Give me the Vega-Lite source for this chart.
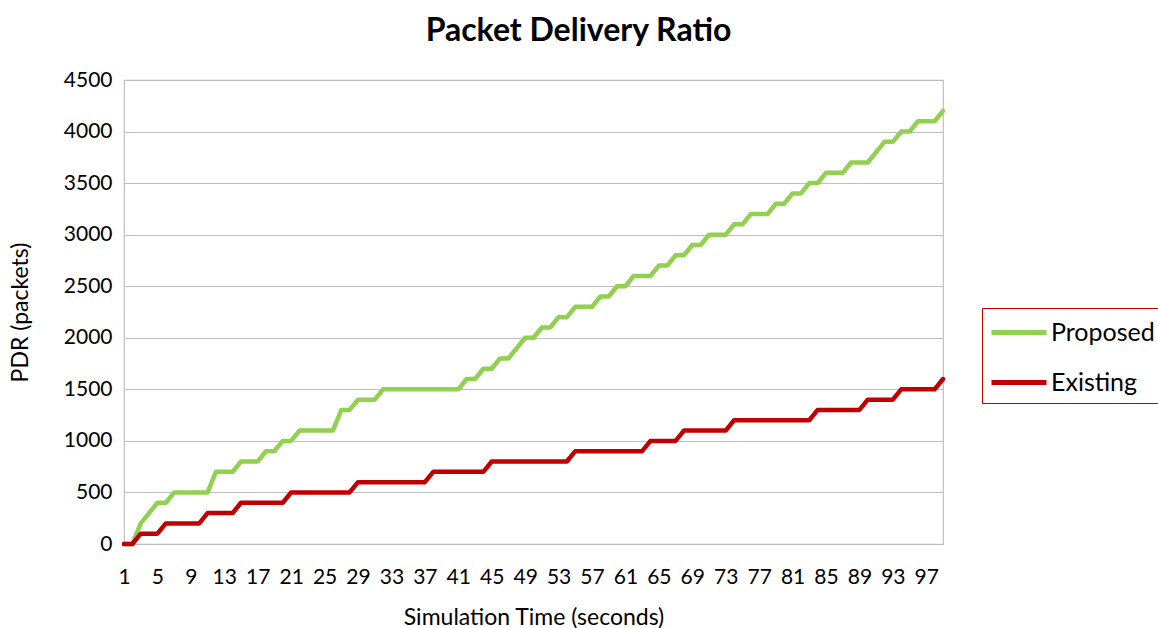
{
  "$schema": "https://vega.github.io/schema/vega-lite/v6.json",
  "width": 819,
  "height": 464,
  "autosize": {"type": "none"},
  "padding": {"left": 124, "top": 80, "right": 215, "bottom": 84},
  "background": "white",
  "title": {"text": "Packet Delivery Ratio", "font": "Lato", "fontSize": 32, "fontWeight": "bold", "color": "#000000", "anchor": "middle", "frame": "group", "dx": 45, "baseline": "top", "offset": 21},
  "data": {"values": [
    {"time":1,"series":"Proposed","pdr":0},{"time":2,"series":"Proposed","pdr":0},{"time":3,"series":"Proposed","pdr":200},{"time":4,"series":"Proposed","pdr":300},{"time":5,"series":"Proposed","pdr":400},{"time":6,"series":"Proposed","pdr":400},{"time":7,"series":"Proposed","pdr":500},{"time":8,"series":"Proposed","pdr":500},{"time":9,"series":"Proposed","pdr":500},{"time":10,"series":"Proposed","pdr":500},
    {"time":11,"series":"Proposed","pdr":500},{"time":12,"series":"Proposed","pdr":700},{"time":13,"series":"Proposed","pdr":700},{"time":14,"series":"Proposed","pdr":700},{"time":15,"series":"Proposed","pdr":800},{"time":16,"series":"Proposed","pdr":800},{"time":17,"series":"Proposed","pdr":800},{"time":18,"series":"Proposed","pdr":900},{"time":19,"series":"Proposed","pdr":900},{"time":20,"series":"Proposed","pdr":1000},
    {"time":21,"series":"Proposed","pdr":1000},{"time":22,"series":"Proposed","pdr":1100},{"time":23,"series":"Proposed","pdr":1100},{"time":24,"series":"Proposed","pdr":1100},{"time":25,"series":"Proposed","pdr":1100},{"time":26,"series":"Proposed","pdr":1100},{"time":27,"series":"Proposed","pdr":1300},{"time":28,"series":"Proposed","pdr":1300},{"time":29,"series":"Proposed","pdr":1400},{"time":30,"series":"Proposed","pdr":1400},
    {"time":31,"series":"Proposed","pdr":1400},{"time":32,"series":"Proposed","pdr":1500},{"time":33,"series":"Proposed","pdr":1500},{"time":34,"series":"Proposed","pdr":1500},{"time":35,"series":"Proposed","pdr":1500},{"time":36,"series":"Proposed","pdr":1500},{"time":37,"series":"Proposed","pdr":1500},{"time":38,"series":"Proposed","pdr":1500},{"time":39,"series":"Proposed","pdr":1500},{"time":40,"series":"Proposed","pdr":1500},
    {"time":41,"series":"Proposed","pdr":1500},{"time":42,"series":"Proposed","pdr":1600},{"time":43,"series":"Proposed","pdr":1600},{"time":44,"series":"Proposed","pdr":1700},{"time":45,"series":"Proposed","pdr":1700},{"time":46,"series":"Proposed","pdr":1800},{"time":47,"series":"Proposed","pdr":1800},{"time":48,"series":"Proposed","pdr":1900},{"time":49,"series":"Proposed","pdr":2000},{"time":50,"series":"Proposed","pdr":2000},
    {"time":51,"series":"Proposed","pdr":2100},{"time":52,"series":"Proposed","pdr":2100},{"time":53,"series":"Proposed","pdr":2200},{"time":54,"series":"Proposed","pdr":2200},{"time":55,"series":"Proposed","pdr":2300},{"time":56,"series":"Proposed","pdr":2300},{"time":57,"series":"Proposed","pdr":2300},{"time":58,"series":"Proposed","pdr":2400},{"time":59,"series":"Proposed","pdr":2400},{"time":60,"series":"Proposed","pdr":2500},
    {"time":61,"series":"Proposed","pdr":2500},{"time":62,"series":"Proposed","pdr":2600},{"time":63,"series":"Proposed","pdr":2600},{"time":64,"series":"Proposed","pdr":2600},{"time":65,"series":"Proposed","pdr":2700},{"time":66,"series":"Proposed","pdr":2700},{"time":67,"series":"Proposed","pdr":2800},{"time":68,"series":"Proposed","pdr":2800},{"time":69,"series":"Proposed","pdr":2900},{"time":70,"series":"Proposed","pdr":2900},
    {"time":71,"series":"Proposed","pdr":3000},{"time":72,"series":"Proposed","pdr":3000},{"time":73,"series":"Proposed","pdr":3000},{"time":74,"series":"Proposed","pdr":3100},{"time":75,"series":"Proposed","pdr":3100},{"time":76,"series":"Proposed","pdr":3200},{"time":77,"series":"Proposed","pdr":3200},{"time":78,"series":"Proposed","pdr":3200},{"time":79,"series":"Proposed","pdr":3300},{"time":80,"series":"Proposed","pdr":3300},
    {"time":81,"series":"Proposed","pdr":3400},{"time":82,"series":"Proposed","pdr":3400},{"time":83,"series":"Proposed","pdr":3500},{"time":84,"series":"Proposed","pdr":3500},{"time":85,"series":"Proposed","pdr":3600},{"time":86,"series":"Proposed","pdr":3600},{"time":87,"series":"Proposed","pdr":3600},{"time":88,"series":"Proposed","pdr":3700},{"time":89,"series":"Proposed","pdr":3700},{"time":90,"series":"Proposed","pdr":3700},
    {"time":91,"series":"Proposed","pdr":3800},{"time":92,"series":"Proposed","pdr":3900},{"time":93,"series":"Proposed","pdr":3900},{"time":94,"series":"Proposed","pdr":4000},{"time":95,"series":"Proposed","pdr":4000},{"time":96,"series":"Proposed","pdr":4100},{"time":97,"series":"Proposed","pdr":4100},{"time":98,"series":"Proposed","pdr":4100},{"time":99,"series":"Proposed","pdr":4200},
    {"time":1,"series":"Existing","pdr":0},{"time":2,"series":"Existing","pdr":0},{"time":3,"series":"Existing","pdr":100},{"time":4,"series":"Existing","pdr":100},{"time":5,"series":"Existing","pdr":100},{"time":6,"series":"Existing","pdr":200},{"time":7,"series":"Existing","pdr":200},{"time":8,"series":"Existing","pdr":200},{"time":9,"series":"Existing","pdr":200},{"time":10,"series":"Existing","pdr":200},
    {"time":11,"series":"Existing","pdr":300},{"time":12,"series":"Existing","pdr":300},{"time":13,"series":"Existing","pdr":300},{"time":14,"series":"Existing","pdr":300},{"time":15,"series":"Existing","pdr":400},{"time":16,"series":"Existing","pdr":400},{"time":17,"series":"Existing","pdr":400},{"time":18,"series":"Existing","pdr":400},{"time":19,"series":"Existing","pdr":400},{"time":20,"series":"Existing","pdr":400},
    {"time":21,"series":"Existing","pdr":500},{"time":22,"series":"Existing","pdr":500},{"time":23,"series":"Existing","pdr":500},{"time":24,"series":"Existing","pdr":500},{"time":25,"series":"Existing","pdr":500},{"time":26,"series":"Existing","pdr":500},{"time":27,"series":"Existing","pdr":500},{"time":28,"series":"Existing","pdr":500},{"time":29,"series":"Existing","pdr":600},{"time":30,"series":"Existing","pdr":600},
    {"time":31,"series":"Existing","pdr":600},{"time":32,"series":"Existing","pdr":600},{"time":33,"series":"Existing","pdr":600},{"time":34,"series":"Existing","pdr":600},{"time":35,"series":"Existing","pdr":600},{"time":36,"series":"Existing","pdr":600},{"time":37,"series":"Existing","pdr":600},{"time":38,"series":"Existing","pdr":700},{"time":39,"series":"Existing","pdr":700},{"time":40,"series":"Existing","pdr":700},
    {"time":41,"series":"Existing","pdr":700},{"time":42,"series":"Existing","pdr":700},{"time":43,"series":"Existing","pdr":700},{"time":44,"series":"Existing","pdr":700},{"time":45,"series":"Existing","pdr":800},{"time":46,"series":"Existing","pdr":800},{"time":47,"series":"Existing","pdr":800},{"time":48,"series":"Existing","pdr":800},{"time":49,"series":"Existing","pdr":800},{"time":50,"series":"Existing","pdr":800},
    {"time":51,"series":"Existing","pdr":800},{"time":52,"series":"Existing","pdr":800},{"time":53,"series":"Existing","pdr":800},{"time":54,"series":"Existing","pdr":800},{"time":55,"series":"Existing","pdr":900},{"time":56,"series":"Existing","pdr":900},{"time":57,"series":"Existing","pdr":900},{"time":58,"series":"Existing","pdr":900},{"time":59,"series":"Existing","pdr":900},{"time":60,"series":"Existing","pdr":900},
    {"time":61,"series":"Existing","pdr":900},{"time":62,"series":"Existing","pdr":900},{"time":63,"series":"Existing","pdr":900},{"time":64,"series":"Existing","pdr":1000},{"time":65,"series":"Existing","pdr":1000},{"time":66,"series":"Existing","pdr":1000},{"time":67,"series":"Existing","pdr":1000},{"time":68,"series":"Existing","pdr":1100},{"time":69,"series":"Existing","pdr":1100},{"time":70,"series":"Existing","pdr":1100},
    {"time":71,"series":"Existing","pdr":1100},{"time":72,"series":"Existing","pdr":1100},{"time":73,"series":"Existing","pdr":1100},{"time":74,"series":"Existing","pdr":1200},{"time":75,"series":"Existing","pdr":1200},{"time":76,"series":"Existing","pdr":1200},{"time":77,"series":"Existing","pdr":1200},{"time":78,"series":"Existing","pdr":1200},{"time":79,"series":"Existing","pdr":1200},{"time":80,"series":"Existing","pdr":1200},
    {"time":81,"series":"Existing","pdr":1200},{"time":82,"series":"Existing","pdr":1200},{"time":83,"series":"Existing","pdr":1200},{"time":84,"series":"Existing","pdr":1300},{"time":85,"series":"Existing","pdr":1300},{"time":86,"series":"Existing","pdr":1300},{"time":87,"series":"Existing","pdr":1300},{"time":88,"series":"Existing","pdr":1300},{"time":89,"series":"Existing","pdr":1300},{"time":90,"series":"Existing","pdr":1400},
    {"time":91,"series":"Existing","pdr":1400},{"time":92,"series":"Existing","pdr":1400},{"time":93,"series":"Existing","pdr":1400},{"time":94,"series":"Existing","pdr":1500},{"time":95,"series":"Existing","pdr":1500},{"time":96,"series":"Existing","pdr":1500},{"time":97,"series":"Existing","pdr":1500},{"time":98,"series":"Existing","pdr":1500},{"time":99,"series":"Existing","pdr":1600}
  ]},
  "mark": {"type": "line", "strokeWidth": 4.5, "strokeCap": "round", "strokeJoin": "round"},
  "encoding": {
    "x": {
      "field": "time", "type": "quantitative",
      "scale": {"domain": [1, 99], "nice": false, "zero": false},
      "axis": {
        "values": [1,5,9,13,17,21,25,29,33,37,41,45,49,53,57,61,65,69,73,77,81,85,89,93,97],
        "format": "d",
        "title": "Simulation Time (seconds)", "grid": false, "ticks": false, "domain": false,
        "labelFlush": false, "labelOverlap": false,
        "labelFont": "Lato", "labelFontSize": 21, "labelColor": "#000000", "labelPadding": 22,
        "titleFont": "Lato", "titleFontSize": 23, "titleFontWeight": "normal", "titleColor": "#000000", "titlePadding": 19
      }
    },
    "y": {
      "field": "pdr", "type": "quantitative",
      "scale": {"domain": [0, 4500], "nice": false},
      "axis": {
        "values": [0,500,1000,1500,2000,2500,3000,3500,4000,4500],
        "format": "d",
        "title": "PDR (packets)", "grid": true, "gridColor": "#BFBFBF", "gridWidth": 1.2,
        "ticks": false, "domain": false,
        "labelFont": "Lato", "labelFontSize": 21, "labelColor": "#000000", "labelPadding": 12,
        "titleFont": "Lato", "titleFontSize": 23, "titleFontWeight": "normal", "titleColor": "#000000", "titlePadding": 31
      }
    },
    "color": {
      "field": "series", "type": "nominal",
      "scale": {"domain": ["Proposed", "Existing"], "range": ["#92D050", "#C00000"]},
      "legend": {
        "title": null, "orient": "none", "legendX": 858, "legendY": 228,
        "symbolType": "M-1,0H2.667", "symbolSize": 900, "symbolStrokeWidth": 5,
        "labelFont": "Lato", "labelFontSize": 25, "labelColor": "#000000", "labelOffset": 27,
        "rowPadding": 19, "padding": 7, "strokeColor": "#C00000", "fillColor": "#FFFFFF"
      }
    }
  },
  "config": {"view": {"stroke": "#BFBFBF", "strokeWidth": 1.2}}
}
